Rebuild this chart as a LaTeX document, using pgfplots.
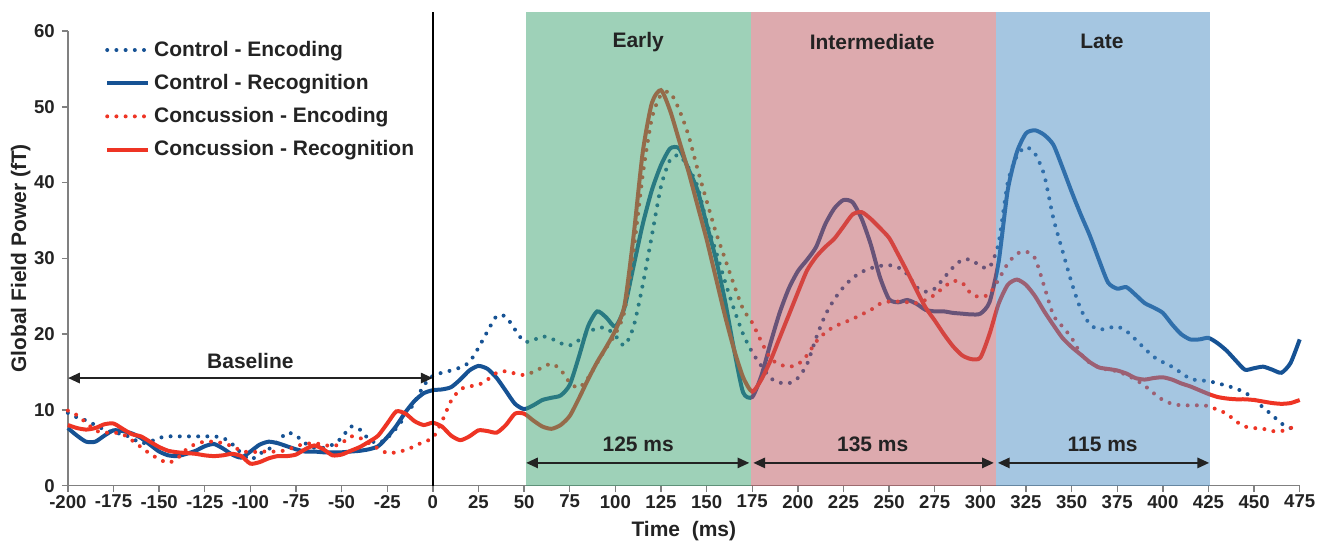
\documentclass[border=0pt]{standalone}
\usepackage{fontspec}
\setmainfont{Liberation Sans}
\usepackage{pgfplots}
\pgfplotsset{compat=1.18}
\usepackage{pgfplotstable}
\usetikzlibrary{arrows.meta}
\definecolor{ctrl}{RGB}{22,82,148}
\definecolor{conc}{RGB}{238,52,36}
\definecolor{earlyc}{RGB}{61,163,113}
\definecolor{interc}{RGB}{187,85,93}
\definecolor{latec}{RGB}{75,141,195}
\definecolor{ink}{RGB}{35,35,35}

% t, control enc, control rec, concussion enc, concussion rec
\pgfplotstableread{
t ce cr ke kr
-200 9.6 7.6 9.9 8.0
-195 9.0 6.6 9.3 7.6
-190 8.6 5.8 8.3 7.4
-185 8.0 5.8 7.3 7.6
-180 7.4 6.6 7.0 8.1
-175 7.0 7.3 7.0 8.2
-170 6.8 7.2 6.8 7.5
-165 6.3 6.9 6.0 6.8
-160 5.6 6.3 5.1 6.5
-155 5.8 5.4 4.2 5.8
-150 6.3 4.5 3.5 5.1
-145 6.5 4.0 3.0 4.6
-140 6.5 3.9 3.6 4.4
-135 6.5 4.2 4.8 4.3
-130 6.5 4.6 5.5 4.2
-125 6.5 5.2 5.8 4.0
-120 6.5 5.5 5.8 3.9
-115 6.3 4.9 5.6 4.0
-110 5.5 4.1 5.2 4.2
-105 4.3 3.7 4.6 3.9
-100 3.4 4.5 4.4 2.9
-95 4.2 5.4 4.5 3.1
-90 4.8 5.8 4.5 3.6
-85 5.8 5.6 4.5 3.9
-80 7.0 5.2 4.7 3.9
-75 6.6 4.8 5.2 4.1
-70 5.6 4.5 5.5 4.8
-65 5.0 4.5 5.6 5.3
-60 5.0 4.4 5.4 4.8
-55 5.4 4.4 5.2 4.0
-50 6.3 4.4 5.6 4.1
-45 7.8 4.5 6.5 4.6
-40 7.4 4.6 6.3 5.1
-35 6.1 4.8 5.6 5.8
-30 5.6 5.2 4.9 6.6
-25 6.3 6.4 4.3 8.2
-20 7.6 7.9 4.4 9.8
-15 9.2 9.7 4.7 9.5
-10 11.0 11.2 5.2 8.5
-5 13.2 12.2 5.8 8.0
0 14.5 12.6 6.3 8.3
5 14.9 12.7 8.5 7.8
10 15.2 13.0 11.2 6.6
15 15.6 14.0 12.7 6.0
20 16.3 15.2 13.1 6.5
25 18.2 15.8 13.3 7.3
30 20.4 15.4 14.0 7.2
35 22.4 14.2 14.9 7.0
40 22.3 12.5 15.1 8.0
45 20.6 10.8 14.8 9.5
50 19.0 10.1 14.6 9.5
55 19.2 10.6 15.0 8.6
60 19.7 11.3 15.6 7.8
65 19.4 11.6 16.1 7.5
70 18.8 11.9 15.3 8.0
75 18.5 13.3 13.6 9.2
80 19.2 17.0 12.9 11.5
85 20.2 21.0 14.2 14.0
90 20.8 23.0 16.2 16.3
95 20.8 22.2 18.2 18.3
100 19.8 21.0 20.0 20.5
105 18.5 23.5 23.0 23.8
110 21.0 29.0 31.0 33.0
115 26.5 34.5 41.0 44.0
120 33.0 39.0 48.5 50.5
125 39.5 42.3 51.6 52.2
130 43.0 44.5 51.9 49.5
135 43.6 44.5 49.6 45.5
140 42.0 41.8 46.3 41.5
145 39.5 39.0 41.8 37.0
150 34.8 34.5 37.6 32.5
155 31.0 30.0 33.5 27.5
160 27.0 24.5 30.0 22.5
165 23.3 18.0 26.5 18.0
170 20.0 12.3 23.3 14.3
175 17.6 11.7 21.5 12.4
180 15.8 14.5 19.0 14.0
185 14.2 18.8 16.8 16.5
190 13.6 22.8 16.0 19.5
195 13.5 26.0 15.7 22.5
200 14.2 28.3 16.0 25.5
205 16.0 29.8 17.2 28.4
210 19.5 31.5 19.0 30.2
215 22.5 34.5 20.2 31.5
220 24.6 36.6 21.0 32.6
225 26.2 37.7 21.5 34.2
230 27.4 37.4 22.0 35.8
235 28.2 35.2 22.6 36.1
240 28.7 31.8 23.2 35.2
245 29.0 27.5 24.0 34.0
250 29.1 24.6 24.3 32.7
255 28.8 24.2 24.3 30.5
260 27.9 24.5 24.2 28.2
265 26.2 24.0 24.1 25.8
270 25.6 23.2 24.5 23.5
275 26.0 23.0 25.2 21.8
280 27.4 23.0 26.2 20.0
285 28.8 22.8 27.0 18.4
290 29.8 22.7 26.8 17.2
295 29.8 22.6 25.3 16.7
300 29.0 22.7 24.9 16.9
305 28.8 24.2 25.3 20.0
310 32.0 29.5 27.2 24.0
315 40.0 39.0 29.3 26.5
320 43.5 44.0 30.6 27.2
325 44.7 46.5 30.9 26.5
330 43.8 46.9 30.0 25.0
335 41.0 46.3 26.3 23.0
340 35.3 45.0 22.5 21.2
345 31.0 42.0 21.0 19.5
350 26.8 38.8 19.5 18.3
355 23.3 35.8 17.4 17.3
360 21.3 33.0 16.2 16.3
365 20.6 29.8 15.6 15.6
370 20.8 26.8 15.3 15.4
375 21.0 26.0 15.1 15.2
380 20.4 26.2 14.6 14.8
385 19.3 25.2 14.0 14.2
390 18.1 24.1 13.2 14.0
395 17.0 23.5 12.2 14.2
400 16.3 22.8 11.3 14.3
405 15.7 21.3 10.8 14.0
410 14.9 20.0 10.6 13.5
415 14.1 19.3 10.6 13.1
420 13.9 19.3 10.6 12.6
425 13.8 19.5 10.5 12.1
430 13.5 18.8 10.0 11.7
435 13.2 17.8 9.5 11.5
440 12.8 16.5 8.5 11.4
445 12.3 15.3 7.8 11.4
450 11.4 15.5 7.6 11.3
455 10.3 15.7 7.5 11.1
460 9.3 15.3 7.2 10.9
465 8.2 14.9 7.2 10.8
470 7.6 16.2 7.6 10.9
475 7.6 19.3 8.0 11.3
}\gfp

\begin{document}
\begin{tikzpicture}
\begin{axis}[
  scale only axis, width=616.5pt, height=227.5pt,
  xmin=-200, xmax=475, ymin=0, ymax=60,
  axis lines*=left,
  axis line style={gray, line width=0.7pt},
  xtick distance=25, ytick distance=10,
  tick align=outside, major tick length=3pt,
  tick style={gray, line width=0.7pt},
  /pgf/number format/assume math mode=true,
  ticklabel style={font=\fontsize{9.3}{11}\selectfont\bfseries, text=ink},
  xticklabel style={inner sep=1.5pt},
  xlabel={Time\ \ (ms)}, ylabel={Global Field Power (fT)},
  label style={font=\fontsize{10.5}{12}\selectfont\bfseries, text=ink},
  xlabel style={yshift=-1.5pt},
  ylabel style={yshift=-5pt},
  clip=false,
  legend style={at={(0.03,0.988)}, anchor=north west, draw=none, fill=none,
    font=\fontsize{10.5}{12}\selectfont\bfseries, text=ink,
    row sep=3.5pt, inner sep=0pt},
  legend cell align=left,
  legend image code/.code={\draw[#1] (0cm,0cm) -- (0.72cm,0cm);},
  every axis plot/.append style={line width=2pt, smooth, tension=0.4},
  dots/.style={dash pattern=on 0pt off 4.6pt, line cap=round},
]
\addplot[ctrl, dots] table[x=t, y=ce] {\gfp};
\addlegendentry{Control - Encoding}
\addplot[ctrl] table[x=t, y=cr] {\gfp};
\addlegendentry{Control - Recognition}
\addplot[conc, dots] table[x=t, y=ke] {\gfp};
\addlegendentry{Concussion - Encoding}
\addplot[conc] table[x=t, y=kr] {\gfp};
\addlegendentry{Concussion - Recognition}

\fill[earlyc, fill opacity=0.5] (51,0) rectangle (174.5,62.5);
\fill[interc, fill opacity=0.5] (174.5,0) rectangle (308.5,62.5);
\fill[latec, fill opacity=0.5] (308.5,0) rectangle (426,62.5);

\draw[black, line width=1.3pt] (0,0) -- (0,62.5);

\begin{scope}[ink, line width=1.4pt, {Triangle[length=6pt,width=5pt]}-{Triangle[length=6pt,width=5pt]}]
\draw (-200,14.2) -- (0,14.2);
\draw (51,3) -- (173.5,3);
\draw (175.5,3) -- (307.5,3);
\draw (309.5,3) -- (425.5,3);
\end{scope}

\begin{scope}[every node/.style={font=\fontsize{10.5}{12}\selectfont\bfseries, text=ink}]
\node at (-100,16.4) {Baseline};
\node at (112.5,5.5) {125 ms};
\node at (241,5.5) {135 ms};
\node at (367,5.5) {115 ms};
\node at (112.5,58.6) {Early};
\node at (240.7,58.6) {Intermediate};
\node at (366.6,58.6) {Late};
\end{scope}

\coordinate (bbsw) at (-237.2,-7.38);
\coordinate (bbne) at (491.6,64.1);
\end{axis}
\pgfresetboundingbox
\useasboundingbox (bbsw) rectangle (bbne);
\end{tikzpicture}
\end{document}
